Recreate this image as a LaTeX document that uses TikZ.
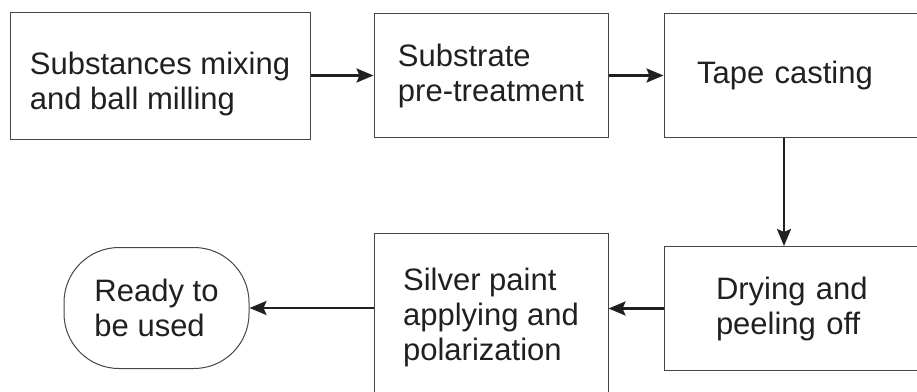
\documentclass[tikz,border=0pt]{standalone}
\usepackage{fontspec}
\setmainfont{Liberation Sans}
\usetikzlibrary{positioning,arrows.meta}
\definecolor{boxgray}{RGB}{70,68,68}
\definecolor{inkblack}{RGB}{35,31,32}

\begin{document}
\begin{tikzpicture}[
        x=1pt, y=-1pt,
        node distance=55pt,
        box/.style={draw=boxgray, line width=1pt, inner sep=0pt, align=left, text=inkblack, font=\fontsize{31}{35}\selectfont},
        flow/.style={-{Stealth[length=17pt,width=14pt,inset=3pt]}, line width=2.4pt, draw=inkblack}
    ]
        \useasboundingbox (0,0) rectangle (917,391);
        \clip (0,0) rectangle (917,391);

        \node[box, minimum width=300pt, minimum height=127pt, text height=75pt] (s1) at (160,75.5) {Substances mixing\\and ball milling};
        \node[box, minimum width=234pt, minimum height=124pt, right=63pt of s1] (s2) {Substrate\\pre-treatment};
        \node[box, inner xsep=33pt, text width=204pt, minimum height=124pt, right=of s2] (s3) {Tape casting};
        \node[box, inner xsep=52pt, text width=166pt, minimum height=124pt, below=108pt of s3] (s4) {Drying and\\peeling off};
        \node[box, minimum width=234pt, minimum height=168pt, below=95pt of s2] (s5) {Silver paint\\applying and\\polarization};
        \node[box, rounded corners=55pt, minimum width=185pt, minimum height=121pt, left=124pt of s5, yshift=9.5pt] (ready) {Ready to\\be used};

        \draw[flow] (s1) -- (s2);
        \draw[flow] (s2) -- (s3);
        \draw[flow] ([xshift=-15pt]s3.south) -- ([xshift=-15pt]s4.north);
        \draw[flow] (s4.west) -- (s4.west -| s5.east);
        \draw[flow] (s5.west |- ready.east) -- (ready.east);
    \end{tikzpicture}
\end{document}
